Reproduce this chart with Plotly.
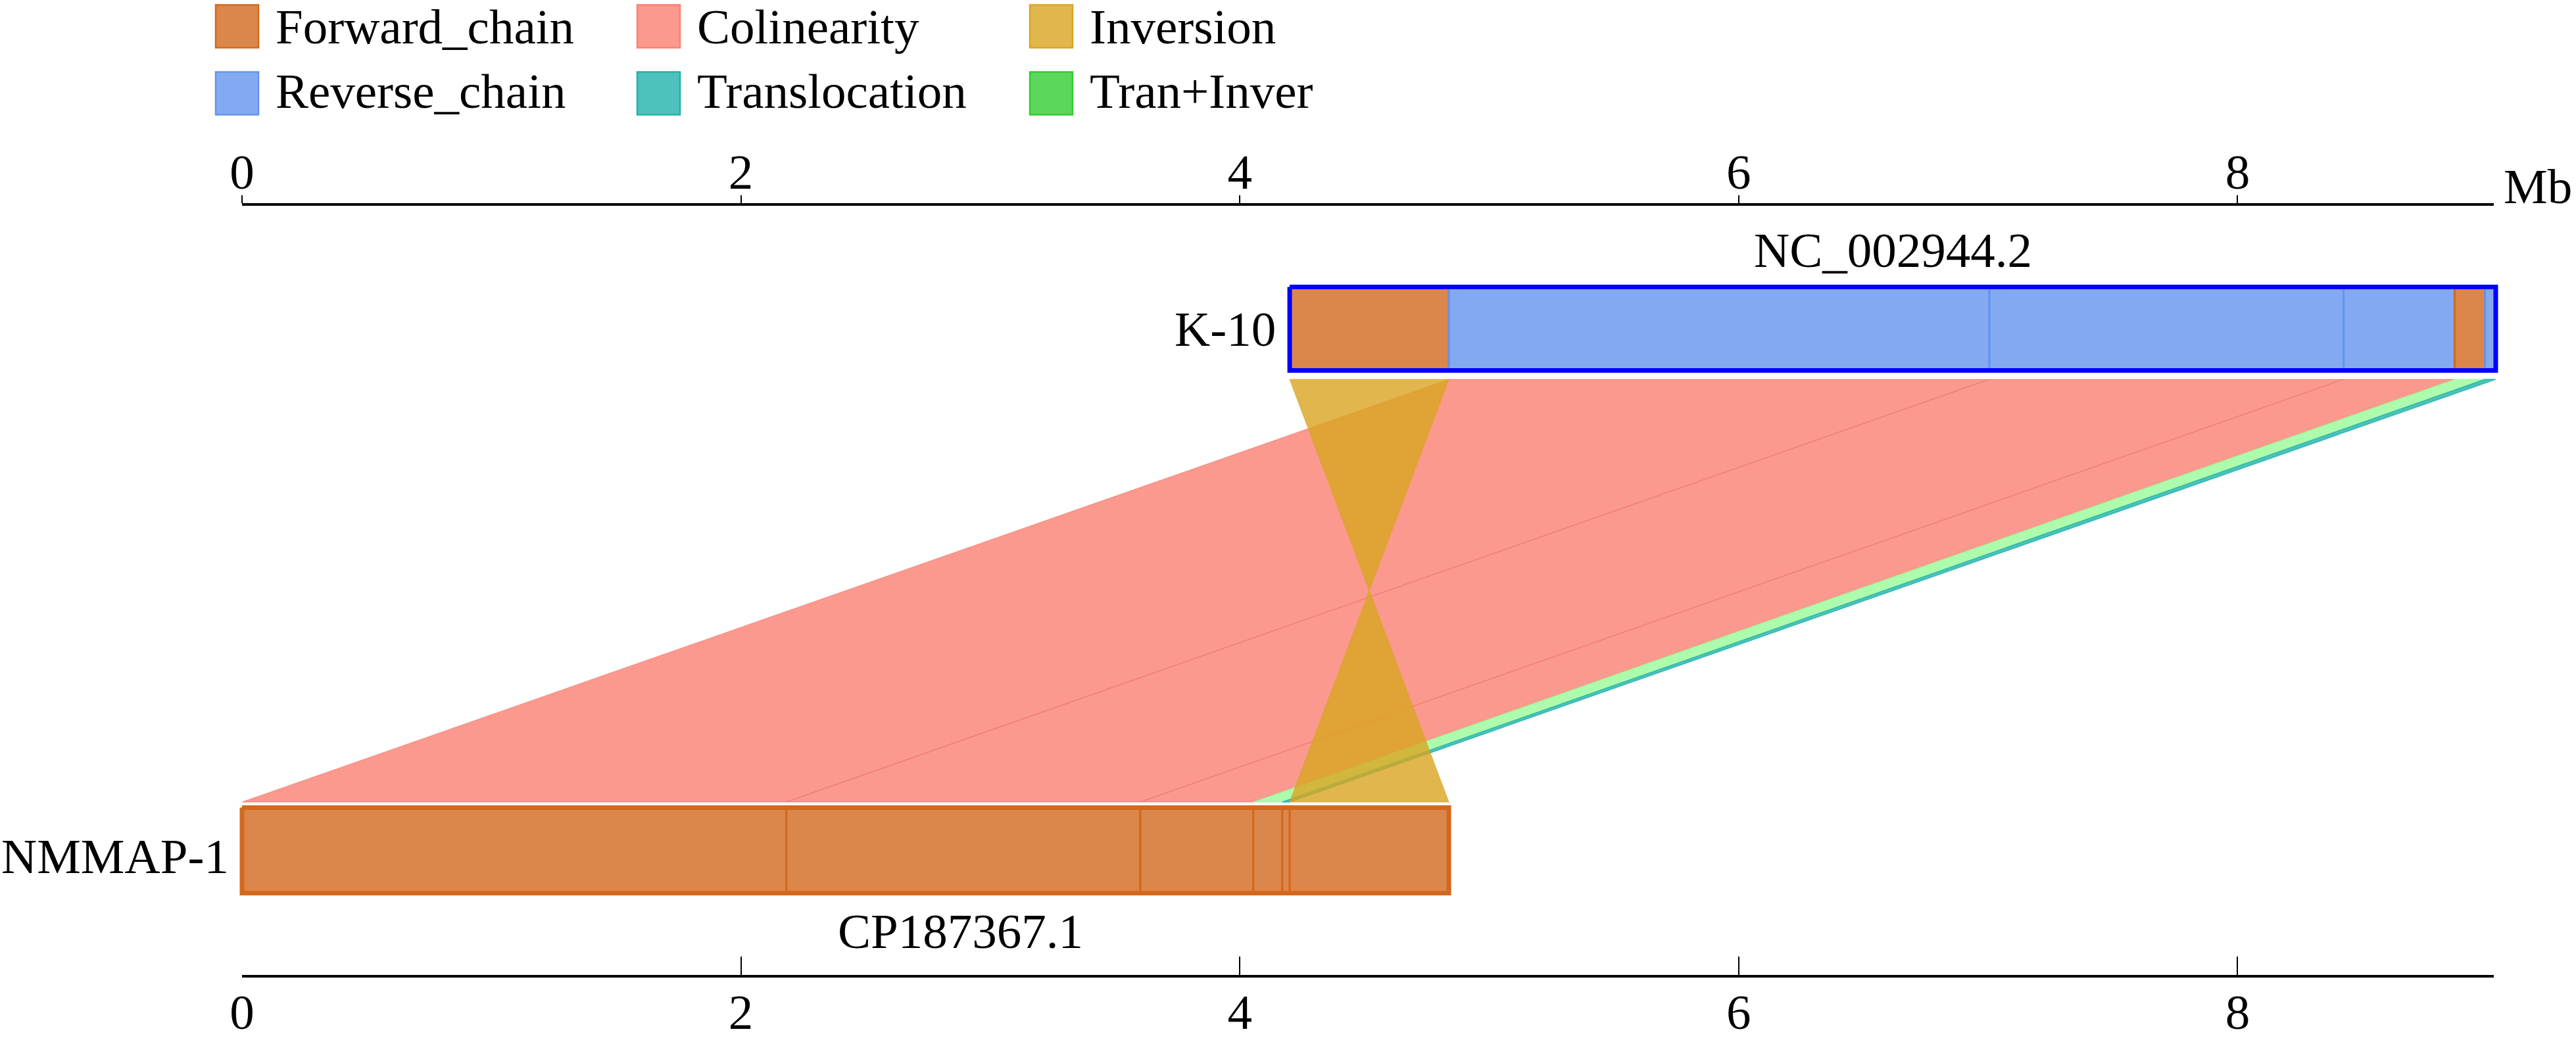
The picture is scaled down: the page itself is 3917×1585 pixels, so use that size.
import plotly.graph_objects as go

# ---- data (Mb) ----
top_name, top_acc = 'K-10', 'NC_002944.2'
bot_name, bot_acc = 'NMMAP-1', 'CP187367.1'

top_bounds = [4.20, 4.838, 7.005, 8.425, 8.870, 8.992, 9.035]
top_types = ['Forward_chain', 'Reverse_chain', 'Reverse_chain', 'Reverse_chain',
             'Forward_chain', 'Reverse_chain']
bot_bounds = [0.0, 2.182, 3.601, 4.054, 4.170, 4.200, 4.838]
bot_types = ['Forward_chain'] * 6

# links between the two genomes
link_top_start = [4.838, 7.005, 8.425, 8.870, 8.992, 4.200]
link_top_end = [7.005, 8.425, 8.870, 8.992, 9.035, 4.838]
link_bot_start = [0.0, 2.182, 3.601, 4.054, 4.170, 4.838]
link_bot_end = [2.182, 3.601, 4.054, 4.170, 4.200, 4.200]
link_types = ['Colinearity', 'Colinearity', 'Colinearity', 'Tran+Inver',
              'Translocation', 'Inversion']

axis_end = 9.027
tick_vals = [0, 2, 4, 6, 8]
cp_label_x = 2.88

legend_names = ['Forward_chain', 'Colinearity', 'Inversion',
                'Reverse_chain', 'Translocation', 'Tran+Inver']

fills = {
    'Forward_chain': 'rgba(210,105,30,0.8)',
    'Reverse_chain': 'rgba(100,149,237,0.8)',
    'Colinearity': 'rgba(250,128,114,0.8)',
    'Inversion': 'rgba(218,165,32,0.8)',
    'Translocation': 'rgba(32,178,170,0.8)',
    'Tran+Inver': 'rgba(152,251,152,0.8)',
}
edges = {
    'Forward_chain': '#D2691E',
    'Reverse_chain': '#6495ED',
    'Colinearity': 'rgba(235,110,100,0.45)',
    'Inversion': 'rgba(218,165,32,0.5)',
    'Translocation': 'rgba(32,178,170,0.8)',
    'Tran+Inver': 'rgba(152,251,152,0.6)',
}
legend_fill = dict(fills, **{'Tran+Inver': 'rgba(50,205,50,0.8)'})
legend_edge = {
    'Forward_chain': '#D2691E', 'Colinearity': '#FA8072', 'Inversion': '#DAA520',
    'Reverse_chain': '#6495ED', 'Translocation': '#20B2AA', 'Tran+Inver': '#32CD32',
}

# ---- geometry (pixels; data y axis is in pixel rows) ----
W, H = 3917, 1585
X0_PX, PX_PER_MB = 368, 379.3
Y_TOP_AXIS, Y_BOT_AXIS = 313, 1483
TOP_BAR = (436.5, 563.5)
BOT_BAR = (1228.5, 1358.5)
LINK_Y = (577, 1220)
FONT = 'Liberation Serif'
FS = 75

fig = go.Figure()


def poly(xs, ys, fill, line, width):
    fig.add_trace(go.Scatter(x=xs + [xs[0]], y=ys + [ys[0]], mode='lines',
                             fill='toself', fillcolor=fill,
                             line=dict(color=line, width=width),
                             hoverinfo='skip', showlegend=False))


# links (colinearity first, inversion last / on top)
for i, t in enumerate(link_types):
    ya, yb = LINK_Y
    xs = [link_top_start[i], link_top_end[i], link_bot_end[i], link_bot_start[i]]
    poly(xs, [ya, ya, yb, yb], fills[t], edges[t], 1.5)

# chromosome segments
for bounds, types, (y1, y2) in [(top_bounds, top_types, TOP_BAR),
                                (bot_bounds, bot_types, BOT_BAR)]:
    for a, b, t in zip(bounds[:-1], bounds[1:], types):
        poly([a, b, b, a], [y1, y1, y2, y2], fills[t], edges[t], 3)

# chromosome outlines
poly([top_bounds[0], top_bounds[-1], top_bounds[-1], top_bounds[0]],
     [TOP_BAR[0], TOP_BAR[0], TOP_BAR[1], TOP_BAR[1]],
     'rgba(0,0,0,0)', '#0000FF', 7)
poly([bot_bounds[0], bot_bounds[-1], bot_bounds[-1], bot_bounds[0]],
     [BOT_BAR[0], BOT_BAR[0], BOT_BAR[1], BOT_BAR[1]],
     'rgba(0,0,0,0)', '#D2691E', 7)

# labels
ann = [
    dict(text=top_name, x=top_bounds[0] - 0.05, y=500, xanchor='right'),
    dict(text=top_acc, x=(top_bounds[0] + top_bounds[-1]) / 2, y=380, xanchor='center'),
    dict(text=bot_name, x=bot_bounds[0] - 0.047, y=1302, xanchor='right'),
    dict(text=bot_acc, x=cp_label_x, y=1416, xanchor='center'),
    dict(text='Mb', x=axis_end + 0.035, y=283, xanchor='left'),
]
for a in ann:
    fig.add_annotation(xref='x', yref='y', showarrow=False, yanchor='middle',
                       font=dict(family=FONT, size=FS, color='black'), **a)

# legend, 3 columns x 2 rows
col_px = [328, 969, 1566]
row_px = [40, 142]
text_dy = [1, -4]
sq = 65
for k, name in enumerate(legend_names):
    cx = col_px[k % 3]
    cy = row_px[k // 3]
    fig.add_shape(type='rect', xref='paper', yref='paper',
                  x0=cx / W, x1=(cx + sq) / W,
                  y0=1 - (cy + sq / 2) / H, y1=1 - (cy - sq / 2) / H,
                  fillcolor=legend_fill[name], line=dict(color=legend_edge[name], width=2.5))
    fig.add_annotation(xref='paper', yref='paper', x=(cx + sq + 24) / W,
                       y=1 - (cy + text_dy[k // 3]) / H,
                       text=name, showarrow=False, xanchor='left', yanchor='middle',
                       font=dict(family=FONT, size=FS, color='black'))

x_range = [-X0_PX / PX_PER_MB, (W - X0_PX) / PX_PER_MB]
scale_dom_x = [X0_PX / W, (X0_PX + axis_end * PX_PER_MB) / W]
scale_dom_y = [1 - Y_BOT_AXIS / H, 1 - Y_TOP_AXIS / H]
tick_font = dict(family=FONT, size=FS, color='black')

fig.update_layout(
    width=W, height=H,
    margin=dict(l=0, r=0, t=0, b=0, autoexpand=False),
    paper_bgcolor='white', plot_bgcolor='rgba(0,0,0,0)',
    showlegend=False,
    font=dict(family=FONT, size=FS, color='black'),
    # drawing area: Mb across, pixel rows down
    xaxis=dict(range=x_range, domain=[0, 1], visible=False, anchor='y'),
    yaxis=dict(range=[H, 0], domain=[0, 1], visible=False, anchor='x'),
    # scale bars
    xaxis2=dict(range=[0, axis_end], domain=scale_dom_x, anchor='y2', side='bottom',
                tickvals=tick_vals, ticks='inside', ticklen=28, tickwidth=2,
                tickcolor='black', showline=True, linewidth=4, linecolor='black',
                showgrid=False, zeroline=False, tickfont=tick_font,
                automargin=False, ticklabelstandoff=-12),
    xaxis3=dict(range=[0, axis_end], domain=scale_dom_x, anchor='y2', side='top',
                overlaying='x2', tickvals=tick_vals, ticks='outside', ticklen=12,
                tickwidth=2, tickcolor='black', showline=True, linewidth=4,
                linecolor='black', showgrid=False, zeroline=False, tickfont=tick_font,
                automargin=False, ticklabelstandoff=-20),
    yaxis2=dict(range=[0, 1], domain=scale_dom_y, visible=False, anchor='x2'),
)
for xa in ('x2', 'x3'):
    fig.add_trace(go.Scatter(x=[0], y=[0.5], xaxis=xa, yaxis='y2', mode='markers',
                             marker=dict(opacity=0), hoverinfo='skip', showlegend=False))

fig.write_html("out.html", config={'displayModeBar': False},
               post_script="document.body.style.margin='0';"
                           "document.body.style.overflow='hidden';")
